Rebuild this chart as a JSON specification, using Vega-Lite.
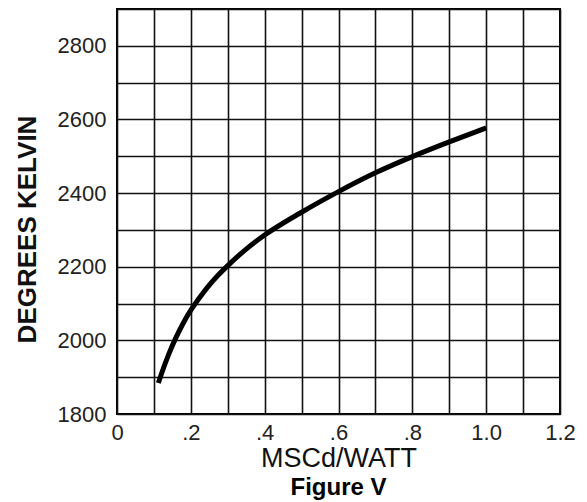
{
  "$schema": "https://vega.github.io/schema/vega-lite/v6.json",
  "width": 443,
  "height": 405,
  "autosize": "none",
  "padding": {"left": 117, "top": 9, "right": 27, "bottom": 88},
  "background": "white",
  "config": {
    "view": {"stroke": "black", "strokeWidth": 2},
    "font": "Liberation Sans"
  },
  "title": {
    "text": "Figure V",
    "orient": "bottom",
    "anchor": "middle",
    "fontSize": 24,
    "fontWeight": "bold",
    "font": "Liberation Sans",
    "color": "black",
    "offset": 5
  },
  "data": {
    "values": [
      {"x": 0.112, "y": 1884},
      {"x": 0.12, "y": 1908},
      {"x": 0.14, "y": 1962},
      {"x": 0.16, "y": 2008},
      {"x": 0.18, "y": 2048},
      {"x": 0.2, "y": 2082},
      {"x": 0.225, "y": 2118},
      {"x": 0.25, "y": 2150},
      {"x": 0.275, "y": 2178},
      {"x": 0.3, "y": 2203},
      {"x": 0.35, "y": 2248},
      {"x": 0.4, "y": 2286},
      {"x": 0.5, "y": 2348},
      {"x": 0.6, "y": 2404},
      {"x": 0.7, "y": 2455},
      {"x": 0.8, "y": 2499},
      {"x": 0.9, "y": 2539},
      {"x": 1.0, "y": 2577}
    ]
  },
  "mark": {"type": "line", "color": "black", "strokeWidth": 5, "interpolate": "monotone", "strokeCap": "butt"},
  "encoding": {
    "x": {
      "field": "x",
      "type": "quantitative",
      "scale": {"domain": [0, 1.2], "nice": false, "zero": false},
      "axis": {
        "title": "MSCd/WATT",
        "values": [0, 0.1, 0.2, 0.3, 0.4, 0.5, 0.6, 0.7, 0.8, 0.9, 1.0, 1.1, 1.2],
        "labelExpr": "datum.value == 0 ? '0' : (round(datum.value * 10) % 2 == 1 ? '' : (datum.value >= 1 ? format(datum.value, '.1f') : replace(format(datum.value, '.1f'), '0.', '.')))",
        "grid": true,
        "gridColor": "#111",
        "gridWidth": 1.6,
        "gridOpacity": 1,
        "domain": false,
        "ticks": false,
        "tickSize": 0,
        "labelPadding": 8,
        "labelFontSize": 22,
        "labelColor": "#222",
        "labelFont": "Liberation Sans",
        "titleFontSize": 27,
        "titleFontWeight": "normal",
        "titleFont": "Liberation Sans",
        "titleColor": "#111",
        "titleBaseline": "middle",
        "titleY": 44,
        "labelFlush": false
      }
    },
    "y": {
      "field": "y",
      "type": "quantitative",
      "scale": {"domain": [1800, 2900], "nice": false, "zero": false},
      "axis": {
        "title": "DEGREES KELVIN",
        "values": [1800, 1900, 2000, 2100, 2200, 2300, 2400, 2500, 2600, 2700, 2800, 2900],
        "labelExpr": "datum.value % 200 == 0 ? '' + datum.value : ''",
        "grid": true,
        "gridColor": "#111",
        "gridWidth": 1.6,
        "gridOpacity": 1,
        "domain": false,
        "ticks": false,
        "tickSize": 0,
        "labelPadding": 11,
        "labelFontSize": 22,
        "labelColor": "#222",
        "labelFont": "Liberation Sans",
        "labelBaseline": "middle",
        "labelFlush": false,
        "titleFontSize": 26,
        "titleFontWeight": "bold",
        "titleFont": "Liberation Sans",
        "titleColor": "#111",
        "titleAngle": -90,
        "titleAlign": "center",
        "titleBaseline": "middle",
        "titleX": -90,
        "titleY": 220
      }
    }
  }
}
